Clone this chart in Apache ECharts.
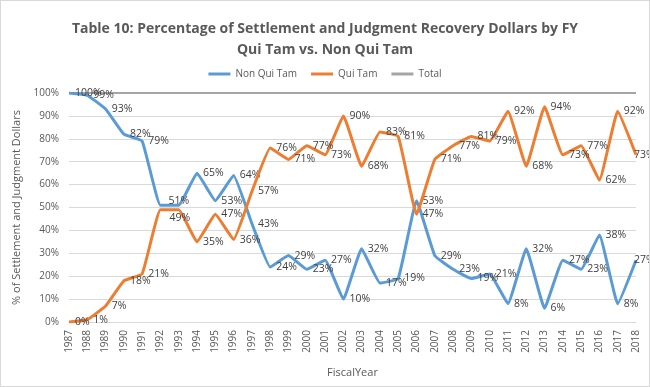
<!DOCTYPE html>
<html>
<head>
<meta charset="utf-8">
<script src="https://cdn.jsdelivr.net/npm/echarts@6/dist/echarts.min.js"></script>
<style>
html,body{margin:0;padding:0;background:#fff;}
#chart{width:650px;height:387px;box-sizing:border-box;border:1px solid #d9d9d9;}
</style>
</head>
<body>
<div id="chart"></div>
<script>
const years = ['1987','1988','1989','1990','1991','1992','1993','1994','1995','1996','1997','1998','1999','2000','2001','2002','2003','2004','2005','2006','2007','2008','2009','2010','2011','2012','2013','2014','2015','2016','2017','2018'];
const nonQuiTam = [100,99,93,82,79,51,51,65,53,64,43,24,29,23,27,10,32,17,19,53,29,23,19,21,8,32,6,27,23,38,8,27];
const quiTam = [0,1,7,18,21,49,49,35,47,36,57,76,71,77,73,90,68,83,81,47,71,77,81,79,92,68,94,73,77,62,92,73];
const total = [100,100,100,100,100,100,100,100,100,100,100,100,100,100,100,100,100,100,100,100,100,100,100,100,100,100,100,100,100,100,100,100];
const yTicks = [0,10,20,30,40,50,60,70,80,90,100];

const hiddenLabelIdx = [6];
function toData(arr, shifts){
  return arr.map((v,i)=>{
    const item = {value:v};
    if (hiddenLabelIdx.includes(i)) item.label = {show:false};
    else if (shifts[i]) item.label = {offset:shifts[i]};
    if (i === arr.length-1) item.label = {offset:[-8,0]};
    return item;
  });
}
const labelStyle = {show:true, position:'right', distance:6, formatter:'{c}%', color:'#404040', fontSize:10.5, fontFamily:'Open Sans'};

const chart = echarts.init(document.getElementById('chart'), null, {renderer:'canvas'});
chart.setOption({
  animation:false,
  title:{
    text:'Table 10: Percentage of Settlement and Judgment Recovery Dollars by FY\nQui Tam vs. Non Qui Tam',
    left:'center', top:13,
    textStyle:{fontFamily:'Open Sans', fontWeight:'bold', fontSize:14, color:'#595959', lineHeight:21}
  },
  legend:{
    top:63, left:'center', itemGap:14,
    icon:'rect', itemWidth:22, itemHeight:3,
    textStyle:{fontFamily:'Open Sans', fontSize:10, color:'#595959'},
    data:['Non Qui Tam','Qui Tam','Total']
  },
  grid:{left:68, right:13, top:92, bottom:64},
  xAxis:{
    type:'category', data:years, boundaryGap:false,
    name:'FiscalYear', nameLocation:'middle', nameGap:45,
    nameTextStyle:{fontFamily:'Open Sans', fontSize:11, color:'#595959'},
    axisLine:{lineStyle:{color:'#d9d9d9'}},
    axisTick:{show:false},
    axisLabel:{rotate:90, fontFamily:'Open Sans', fontSize:10, color:'#595959', margin:8, interval:0}
  },
  yAxis:{
    type:'value', min:yTicks[0], max:yTicks[yTicks.length-1], interval:10,
    name:'% of Settlement and Judgment Dollars', nameLocation:'middle', nameGap:40,
    nameTextStyle:{fontFamily:'Open Sans', fontSize:11, color:'#595959'},
    axisLine:{show:false}, axisTick:{show:false},
    axisLabel:{formatter:'{value}%', fontFamily:'Open Sans', fontSize:10, color:'#595959', margin:10},
    splitLine:{lineStyle:{color:'#d9d9d9'}}
  },
  series:[
    {name:'Non Qui Tam', type:'line', data:toData(nonQuiTam, {5:[2,-4]}), symbol:'circle', symbolSize:0.1, showSymbol:true, smooth:0.1,
     lineStyle:{color:'#5B9BD5', width:3}, itemStyle:{color:'#5B9BD5'}, label:labelStyle, z:3},
    {name:'Qui Tam', type:'line', data:toData(quiTam, {5:[3,8]}), symbol:'circle', symbolSize:0.1, showSymbol:true, smooth:0.1,
     lineStyle:{color:'#ED7D31', width:3}, itemStyle:{color:'#ED7D31'}, label:labelStyle, z:4},
    {name:'Total', type:'line', data:total, symbol:'none',
     lineStyle:{color:'#A5A5A5', width:2}, itemStyle:{color:'#A5A5A5'}, z:2}
  ]
});
</script>
</body>
</html>
